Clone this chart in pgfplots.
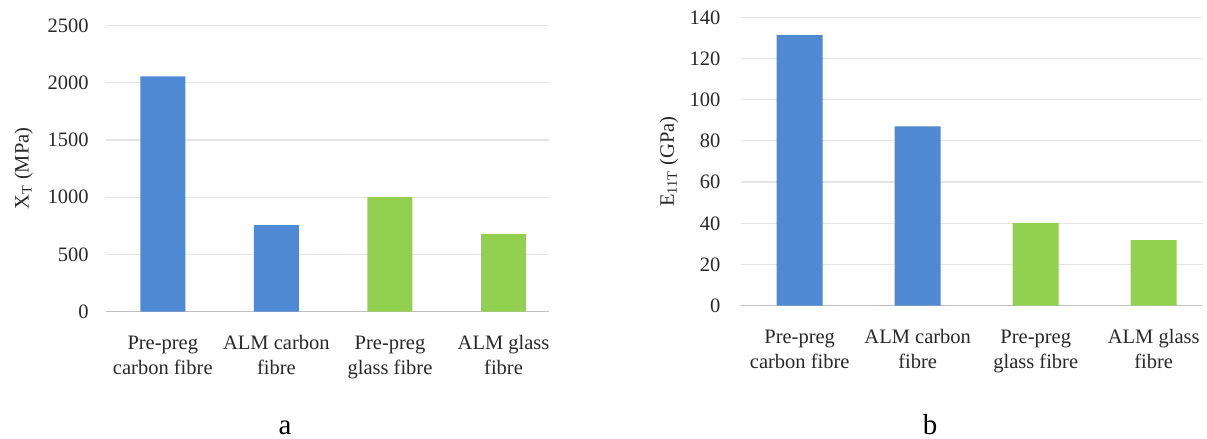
\documentclass[border=0pt]{standalone}
\usepackage{pgfplots}
\pgfplotsset{compat=1.18}
\usepackage{fontspec}
\setmainfont{Liberation Serif}
\definecolor{barblue}{RGB}{79,136,211}
\definecolor{bargreen}{RGB}{146,208,80}
\definecolor{gridgray}{RGB}{228,228,228}
\definecolor{axisgray}{RGB}{191,191,191}
\definecolor{txt}{RGB}{40,40,40}
\newcommand{\lblfont}{\rmfamily\fontsize{10.25}{12.5}\selectfont}
\pgfplotsset{
  panel/.style={
    scale only axis,
    ybar, bar shift=0pt,
    axis x line*=bottom, axis y line*=left,
    separate axis lines,
    x axis line style={axisgray, line width=0.7pt, -},
    y axis line style={draw=none},
    major tick length=0pt,
    ymajorgrids, grid style={gridgray, line width=0.6pt},
    xmin=-0.5, xmax=3.4,
    xtick={0,1,2,3},
    xticklabels={{Pre-preg\\carbon fibre},{ALM carbon\\fibre},{Pre-preg\\glass fibre},{ALM glass\\fibre}},
    xticklabel style={align=center, font=\lblfont, text=txt, yshift=-8.5pt},
    yticklabel style={font=\lblfont, text=txt},
    ylabel style={font=\lblfont, text=txt, anchor=center, rotate=0},
    /pgf/number format/assume math mode=true,
    /pgf/number format/1000 sep={},
    clip=false,
  }
}
\begin{document}
\begin{tikzpicture}
\useasboundingbox (0,0) rectangle (603.5pt,219.5pt);
\begin{axis}[panel,
  at={(53pt,63.65pt)}, anchor=south west,
  width=221.5pt, height=143.1pt,
  bar width=22.5pt,
  ymin=0, ymax=2500, ytick={0,500,1000,1500,2000,2500},
  yticklabel style={xshift=-5.1pt},
  ylabel={X\textsubscript{T} (MPa)},
  ylabel style={at={(axis description cs:-0.186,0.5)}},
]
\addplot[fill=barblue, draw=none] coordinates {(0,2055) (1,756)};
\addplot[fill=bargreen, draw=none] coordinates {(2,1000) (3,678)};
\end{axis}
\begin{axis}[panel,
  at={(370.35pt,66.65pt)}, anchor=south west,
  width=230.7pt, height=144.2pt,
  xmax=3.41,
  bar width=23pt,
  ymin=0, ymax=140, ytick={0,20,40,60,80,100,120,140},
  yticklabel style={xshift=-6.6pt},
  ylabel={E\textsubscript{11T} (GPa)},
  ylabel style={at={(axis description cs:-0.1554,0.5)}},
]
\addplot[fill=barblue, draw=none] coordinates {(0,131.3) (1,87)};
\addplot[fill=bargreen, draw=none] coordinates {(2,40.2) (3,31.8)};
\end{axis}
\node[anchor=base, font=\rmfamily\fontsize{14.5}{16}\selectfont] at (142.5pt,2.35pt) {a};
\node[anchor=base, font=\rmfamily\fontsize{14.5}{16}\selectfont] at (465pt,2.35pt) {b};
\end{tikzpicture}
\end{document}
